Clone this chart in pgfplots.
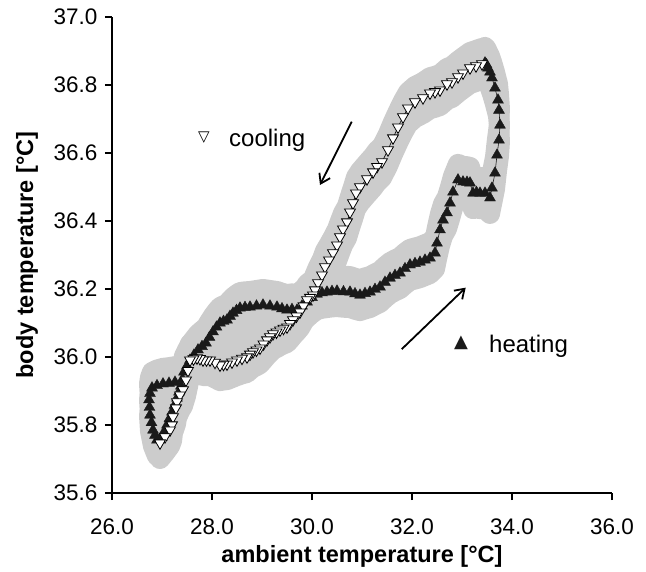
\documentclass[border=0pt]{standalone}
\usepackage{fontspec}
\setmainfont{Liberation Sans}
\newfontfamily\symfont{DejaVu Sans}
\usepackage{pgfplots}
\usepackage{pgfplotstable}
\pgfplotsset{compat=1.18}
\usetikzlibrary{arrows.meta}
\definecolor{band}{RGB}{204,204,204}
\definecolor{mk}{RGB}{26,26,26}

\pgfplotstableread{
x y
27.26 35.926
27.14 35.923
27.02 35.921
26.90 35.916
26.80 35.909
26.76 35.893
26.74 35.874
26.75 35.852
26.76 35.829
26.79 35.807
26.82 35.785
26.86 35.770
26.90 35.756
26.95 35.758
27.00 35.765
27.05 35.782
27.10 35.800
27.15 35.819
27.20 35.838
27.25 35.858
27.30 35.879
27.34 35.897
27.38 35.915
27.41 35.935
27.44 35.956
27.50 35.974
27.56 35.991
27.64 36.006
27.72 36.021
27.80 36.031
27.88 36.041
27.95 36.058
28.02 36.074
28.09 36.088
28.16 36.100
28.23 36.105
28.30 36.109
28.36 36.120
28.42 36.129
28.49 36.137
28.56 36.144
28.66 36.146
28.76 36.147
28.89 36.150
29.02 36.153
29.16 36.150
29.30 36.147
29.40 36.142
29.50 36.138
29.60 36.140
29.70 36.138
29.80 36.150
29.90 36.162
30.00 36.175
30.10 36.185
30.20 36.189
30.30 36.191
30.40 36.193
30.50 36.194
30.63 36.192
30.76 36.191
30.86 36.186
30.96 36.182
31.06 36.187
31.16 36.191
31.26 36.199
31.36 36.206
31.46 36.220
31.56 36.232
31.66 36.240
31.76 36.247
31.86 36.260
31.96 36.271
32.06 36.275
32.16 36.279
32.26 36.285
32.36 36.291
32.46 36.306
32.50 36.335
32.56 36.374
32.62 36.403
32.70 36.424
32.76 36.453
32.82 36.485
32.92 36.521
33.02 36.515
33.10 36.514
33.16 36.512
33.22 36.482
33.29 36.484
33.36 36.482
33.46 36.482
33.56 36.468
33.60 36.497
33.66 36.541
33.70 36.594
33.74 36.638
33.76 36.682
33.74 36.726
33.72 36.756
33.66 36.791
33.60 36.821
33.56 36.838
33.52 36.850
33.49 36.860
33.46 36.865
}\heating

\pgfplotstableread{
x y
33.40 36.862
33.28 36.856
33.16 36.850
33.02 36.835
32.92 36.824
32.80 36.809
32.70 36.803
32.56 36.785
32.46 36.780
32.36 36.776
32.22 36.762
32.06 36.750
31.92 36.732
31.82 36.706
31.72 36.676
31.62 36.644
31.52 36.609
31.40 36.574
31.30 36.560
31.22 36.544
31.10 36.524
30.96 36.500
30.88 36.482
30.82 36.453
30.76 36.426
30.70 36.397
30.62 36.376
30.56 36.353
30.50 36.329
30.42 36.306
30.34 36.285
30.26 36.265
30.20 36.241
30.12 36.218
30.06 36.197
30.02 36.182
29.96 36.175
29.90 36.168
29.83 36.150
29.76 36.132
29.69 36.120
29.62 36.109
29.56 36.098
29.50 36.088
29.43 36.084
29.36 36.079
29.29 36.073
29.22 36.068
29.16 36.059
29.10 36.050
29.03 36.038
28.96 36.026
28.89 36.020
28.82 36.015
28.76 36.008
28.70 36.000
28.60 35.996
28.50 35.991
28.40 35.985
28.30 35.979
28.23 35.978
28.16 35.976
28.06 35.984
27.96 35.991
27.89 35.991
27.82 35.991
27.76 35.995
27.70 35.997
27.63 35.994
27.56 35.991
27.52 35.960
27.48 35.932
27.42 35.903
27.36 35.888
27.30 35.868
27.28 35.850
27.22 35.824
27.20 35.800
27.16 35.785
27.06 35.765
26.96 35.747
}\cooling

\begin{document}
\begin{tikzpicture}
\path[use as bounding box] (-112pt,-78pt) rectangle (534pt,493pt);
\begin{axis}[
  at={(0pt,0pt)}, anchor=south west,
  scale only axis, width=500pt, height=476pt,
  xmin=26, xmax=36, ymin=35.6, ymax=37.0,
  xtick={26,28,30,32,34,36},
  ytick={35.6,35.8,36.0,36.2,36.4,36.6,36.8,37.0},
  axis x line*=bottom, axis y line*=left,
  xtick pos=left, ytick pos=left,
  tick align=outside, major tick length=7pt,
  axis line style={line width=1.6pt, black},
  every tick/.style={black, line width=1.6pt},
  tick label style={font=\fontsize{22.5}{26}\selectfont},
  xticklabel shift=15pt,
  yticklabel shift=4pt,
  /pgf/number format/fixed,
  /pgf/number format/fixed zerofill,
  /pgf/number format/precision=1,
  /pgf/number format/assume math mode=true,
  xlabel={ambient temperature [°C]},
  ylabel={body temperature [°C]},
  label style={font=\bfseries\fontsize{23.5}{28}\selectfont},
  xlabel style={at={(axis description cs:0.5,-0.1324)}, anchor=center},
  ylabel style={at={(axis description cs:-0.170,0.5)}, anchor=center},
]
% grey bands
\addplot[no markers, band, line width=20pt, line join=round, line cap=round] table {\heating};
\addplot[no markers, band, line width=20pt, line join=round, line cap=round, yshift=16pt] table {\heating};
\addplot[no markers, band, line width=20pt, line join=round, line cap=round, yshift=-16pt] table {\heating};
\addplot[no markers, band, line width=20pt, line join=round, line cap=round] table {\cooling};
\addplot[no markers, band, line width=20pt, line join=round, line cap=round, yshift=16pt] table {\cooling};
\addplot[no markers, band, line width=20pt, line join=round, line cap=round, yshift=-16pt] table {\cooling};
% heating
\addplot[mk, line width=0.6pt, mark=triangle*, mark size=6.3pt, mark options={fill=mk, draw=mk, line width=0.4pt}] table {\heating};
% cooling
\addplot[only marks, mark=triangle*, mark size=6.3pt, mark options={rotate=180, fill=white, draw=black, line width=0.8pt}] table {\cooling};
\addplot[black, line width=0.6pt, no markers] table {\cooling};
% arrows
\draw[line width=1.8pt, -{Straight Barb[length=9pt,width=12pt]}] (axis cs:30.794,36.692) -- (axis cs:30.16,36.506);
\draw[line width=1.8pt, -{Straight Barb[length=9pt,width=12pt]}] (axis cs:31.794,36.023) -- (axis cs:33.074,36.204);
% labels
\node[inner sep=0pt, font=\symfont\fontsize{15}{15}\selectfont] at (axis cs:27.84,36.644) {▽};
\node[inner sep=0pt, anchor=base west, font=\fontsize{24}{28}\selectfont] at (axis cs:28.34,36.618) {cooling};
\node[inner sep=0pt, font=\symfont\fontsize{18}{18}\selectfont, text=mk] at (axis cs:32.98,36.043) {▲};
\node[inner sep=0pt, anchor=base west, font=\fontsize{24}{28}\selectfont] at (axis cs:33.54,36.014) {heating};
\end{axis}
\end{tikzpicture}
\end{document}
